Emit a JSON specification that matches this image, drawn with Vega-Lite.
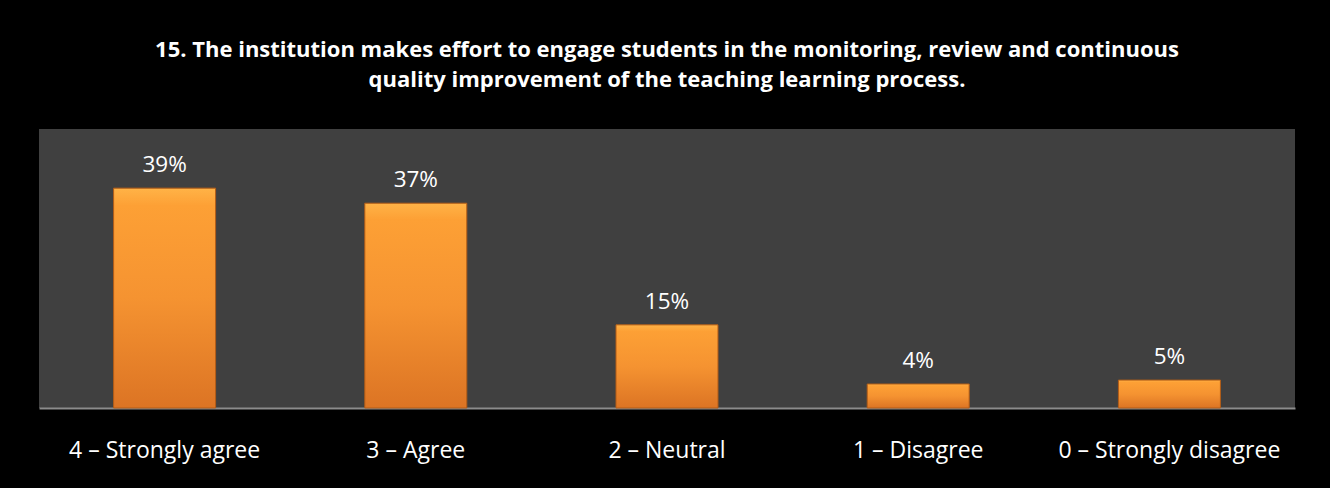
{
  "$schema": "https://vega.github.io/schema/vega-lite/v6.json",
  "autosize": {"type": "none"},
  "width": 1256,
  "height": 279,
  "padding": {"left": 39, "top": 129, "right": 35, "bottom": 80},
  "background": "#000000",
  "view": {"fill": "#404040", "stroke": null},
  "title": {
    "text": ["15. The institution makes effort to engage students in the monitoring, review and continuous", "quality improvement of the teaching learning process."],
    "anchor": "middle",
    "font": "Open Sans",
    "fontSize": 22,
    "fontWeight": "bold",
    "color": "#ffffff",
    "lineHeight": 30,
    "offset": 37
  },
  "data": {
    "values": [
      {"response": "4 – Strongly agree", "share": 0.394, "label": "39%"},
      {"response": "3 – Agree", "share": 0.367, "label": "37%"},
      {"response": "2 – Neutral", "share": 0.149, "label": "15%"},
      {"response": "1 – Disagree", "share": 0.043, "label": "4%"},
      {"response": "0 – Strongly disagree", "share": 0.05, "label": "5%"}
    ]
  },
  "encoding": {
    "x": {
      "field": "response",
      "type": "nominal",
      "sort": null,
      "scale": {"paddingInner": 0.594, "paddingOuter": 0.297},
      "axis": {
        "title": null,
        "labelAngle": 0,
        "labelFont": "Open Sans",
        "labelFontSize": 23,
        "labelColor": "#ffffff",
        "labelPadding": 31,
        "labelLimit": 0,
        "ticks": false,
        "domainColor": "#8c8c8c",
        "domainWidth": 2
      }
    },
    "y": {
      "field": "share",
      "type": "quantitative",
      "scale": {"domain": [0, 0.5]},
      "axis": null
    }
  },
  "layer": [
    {
      "mark": {
        "type": "bar",
        "stroke": "#b35c16",
        "strokeWidth": 1,
        "color": {
          "gradient": "linear",
          "x1": 0, "y1": 0, "x2": 0, "y2": 1,
          "stops": [
            {"offset": 0, "color": "#ffb347"},
            {"offset": 0.08, "color": "#fda035"},
            {"offset": 0.5, "color": "#f59331"},
            {"offset": 1, "color": "#dc7424"}
          ]
        }
      }
    },
    {
      "mark": {
        "type": "text",
        "font": "Open Sans",
        "fontSize": 22.5,
        "color": "#ffffff",
        "baseline": "alphabetic",
        "dy": -16
      },
      "encoding": {"text": {"field": "label"}}
    }
  ]
}
